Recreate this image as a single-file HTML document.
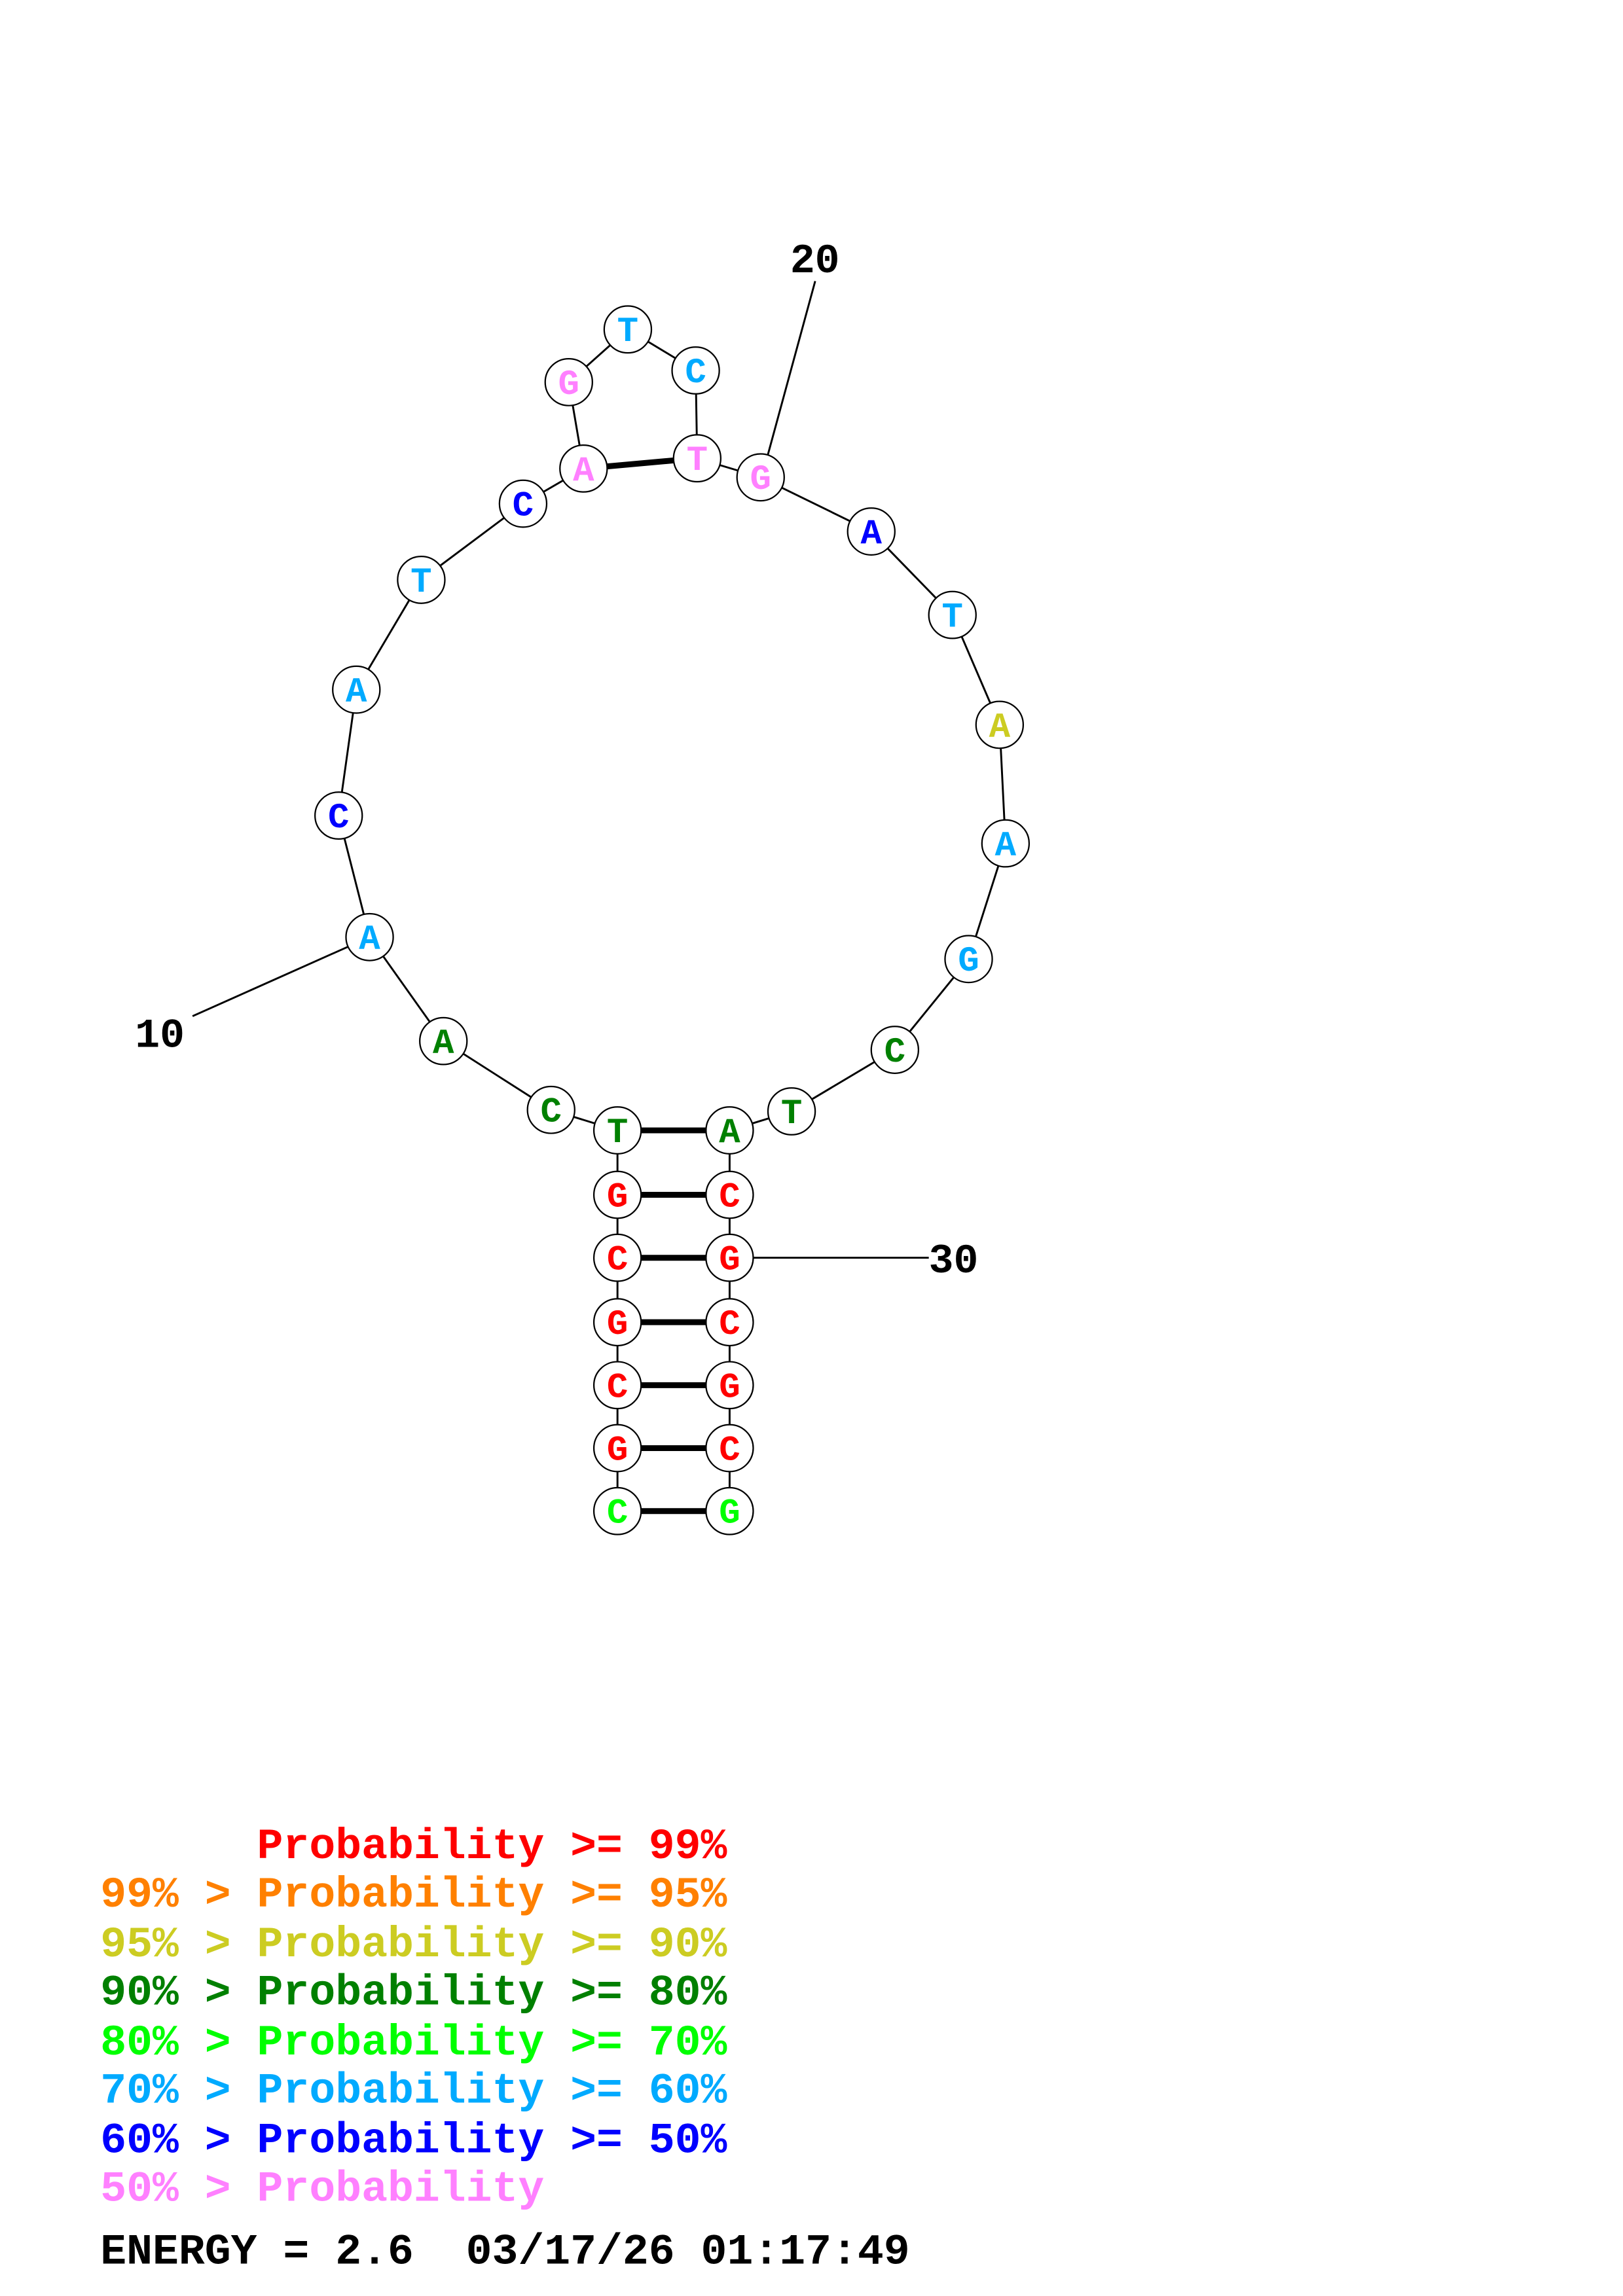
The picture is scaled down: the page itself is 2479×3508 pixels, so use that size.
<!DOCTYPE html>
<html><head><meta charset="utf-8"><style>html,body{margin:0;padding:0;background:#fff}svg{display:block}text{white-space:pre}</style></head><body>
<svg width="2479" height="3508" viewBox="0 0 1100 1556.6" xmlns="http://www.w3.org/2000/svg" font-family="Liberation Mono, monospace" font-weight="bold">
<g transform="matrix(1 0 0 0.9927 -2.5 -1)">
<g stroke="#000" stroke-width="1.3" fill="none">
<polyline points="421,1033 421,773 376,759 303,712 253,641 232,558 244,472 288,397 357,345 398,321 388,262 428,226 474,254 475,314 518,327 593,364 648,421 680,496 684,577 659,656 609,718 539,760 497,773 497,1033"/>
<line x1="133" y1="695" x2="253" y2="641"/><line x1="555" y1="193" x2="522" y2="315"/><line x1="512" y1="860" x2="632" y2="860"/>
</g>
<g stroke="#000" stroke-width="4">
<line x1="421" y1="773" x2="497" y2="773"/><line x1="421" y1="817" x2="497" y2="817"/><line x1="421" y1="860" x2="497" y2="860"/><line x1="421" y1="904" x2="497" y2="904"/><line x1="421" y1="947" x2="497" y2="947"/><line x1="421" y1="990" x2="497" y2="990"/><line x1="421" y1="1033" x2="497" y2="1033"/><line x1="398" y1="321" x2="475" y2="314"/>
</g>
<g font-size="24" text-anchor="middle">
<circle cx="421" cy="773" r="16" fill="#fff" stroke="#000"/><text x="421" y="781" fill="#008000">T</text>
<circle cx="421" cy="817" r="16" fill="#fff" stroke="#000"/><text x="421" y="825" fill="#ff0000">G</text>
<circle cx="421" cy="860" r="16" fill="#fff" stroke="#000"/><text x="421" y="868" fill="#ff0000">C</text>
<circle cx="421" cy="904" r="16" fill="#fff" stroke="#000"/><text x="421" y="912" fill="#ff0000">G</text>
<circle cx="421" cy="947" r="16" fill="#fff" stroke="#000"/><text x="421" y="955" fill="#ff0000">C</text>
<circle cx="421" cy="990" r="16" fill="#fff" stroke="#000"/><text x="421" y="998" fill="#ff0000">G</text>
<circle cx="421" cy="1033" r="16" fill="#fff" stroke="#000"/><text x="421" y="1041" fill="#00ff00">C</text>
<circle cx="497" cy="773" r="16" fill="#fff" stroke="#000"/><text x="497" y="781" fill="#008000">A</text>
<circle cx="497" cy="817" r="16" fill="#fff" stroke="#000"/><text x="497" y="825" fill="#ff0000">C</text>
<circle cx="497" cy="860" r="16" fill="#fff" stroke="#000"/><text x="497" y="868" fill="#ff0000">G</text>
<circle cx="497" cy="904" r="16" fill="#fff" stroke="#000"/><text x="497" y="912" fill="#ff0000">C</text>
<circle cx="497" cy="947" r="16" fill="#fff" stroke="#000"/><text x="497" y="955" fill="#ff0000">G</text>
<circle cx="497" cy="990" r="16" fill="#fff" stroke="#000"/><text x="497" y="998" fill="#ff0000">C</text>
<circle cx="497" cy="1033" r="16" fill="#fff" stroke="#000"/><text x="497" y="1041" fill="#00ff00">G</text>
<circle cx="376" cy="759" r="16" fill="#fff" stroke="#000"/><text x="376" y="767" fill="#008000">C</text>
<circle cx="303" cy="712" r="16" fill="#fff" stroke="#000"/><text x="303" y="720" fill="#008000">A</text>
<circle cx="253" cy="641" r="16" fill="#fff" stroke="#000"/><text x="253" y="649" fill="#00aaff">A</text>
<circle cx="232" cy="558" r="16" fill="#fff" stroke="#000"/><text x="232" y="566" fill="#0000ff">C</text>
<circle cx="244" cy="472" r="16" fill="#fff" stroke="#000"/><text x="244" y="480" fill="#00aaff">A</text>
<circle cx="288" cy="397" r="16" fill="#fff" stroke="#000"/><text x="288" y="405" fill="#00aaff">T</text>
<circle cx="357" cy="345" r="16" fill="#fff" stroke="#000"/><text x="357" y="353" fill="#0000ff">C</text>
<circle cx="398" cy="321" r="16" fill="#fff" stroke="#000"/><text x="398" y="329" fill="#ff80ff">A</text>
<circle cx="388" cy="262" r="16" fill="#fff" stroke="#000"/><text x="388" y="270" fill="#ff80ff">G</text>
<circle cx="428" cy="226" r="16" fill="#fff" stroke="#000"/><text x="428" y="234" fill="#00aaff">T</text>
<circle cx="474" cy="254" r="16" fill="#fff" stroke="#000"/><text x="474" y="262" fill="#00aaff">C</text>
<circle cx="475" cy="314" r="16" fill="#fff" stroke="#000"/><text x="475" y="322" fill="#ff80ff">T</text>
<circle cx="518" cy="327" r="16" fill="#fff" stroke="#000"/><text x="518" y="335" fill="#ff80ff">G</text>
<circle cx="593" cy="364" r="16" fill="#fff" stroke="#000"/><text x="593" y="372" fill="#0000ff">A</text>
<circle cx="648" cy="421" r="16" fill="#fff" stroke="#000"/><text x="648" y="429" fill="#00aaff">T</text>
<circle cx="680" cy="496" r="16" fill="#fff" stroke="#000"/><text x="680" y="504" fill="#cccc22">A</text>
<circle cx="684" cy="577" r="16" fill="#fff" stroke="#000"/><text x="684" y="585" fill="#00aaff">A</text>
<circle cx="659" cy="656" r="16" fill="#fff" stroke="#000"/><text x="659" y="664" fill="#00aaff">G</text>
<circle cx="609" cy="718" r="16" fill="#fff" stroke="#000"/><text x="609" y="726" fill="#008000">C</text>
<circle cx="539" cy="760" r="16" fill="#fff" stroke="#000"/><text x="539" y="768" fill="#008000">T</text>
</g>
<g font-size="28" fill="#000">
<text x="94" y="716">10</text><text x="538" y="187">20</text><text x="632" y="870">30</text>
</g>
</g>
<g font-size="29.5" transform="matrix(1 0 0 0.9927 0 0)">
<text x="68" y="1269" fill="#ff0000">      Probability &gt;= 99%</text>
<text x="68" y="1302" fill="#ff8000">99% &gt; Probability &gt;= 95%</text>
<text x="68" y="1336" fill="#cccc22">95% &gt; Probability &gt;= 90%</text>
<text x="68" y="1369" fill="#008000">90% &gt; Probability &gt;= 80%</text>
<text x="68" y="1403" fill="#00ff00">80% &gt; Probability &gt;= 70%</text>
<text x="68" y="1436" fill="#00aaff">70% &gt; Probability &gt;= 60%</text>
<text x="68" y="1470" fill="#0000ff">60% &gt; Probability &gt;= 50%</text>
<text x="68" y="1503" fill="#ff80ff">50% &gt; Probability</text>
<text x="68" y="1546" fill="#000">ENERGY = 2.6  03/17/26 01:17:49</text>
</g>
</svg>
</body></html>
